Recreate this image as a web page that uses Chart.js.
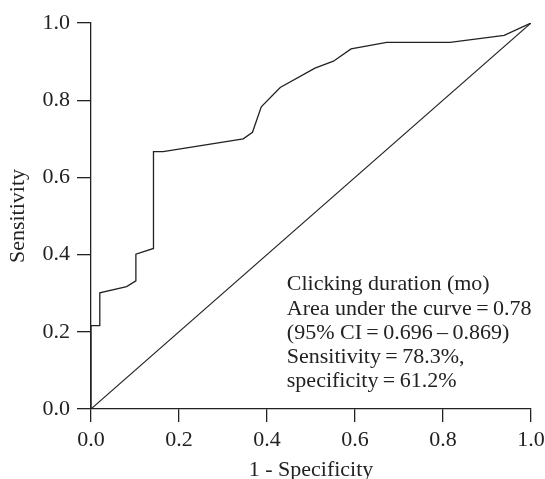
<!DOCTYPE html>
<html>
<head>
<meta charset="utf-8">
<script src="https://cdn.jsdelivr.net/npm/chart.js@4/dist/chart.umd.min.js"></script>
<style>
  html, body { margin: 0; padding: 0; background: #fff; }
  #wrap { position: relative; width: 545px; height: 479px; }
</style>
</head>
<body>
<div id="wrap"><canvas id="c" width="545" height="479"></canvas></div>
<script>
// ROC curve points (1 - specificity, sensitivity)
const fpr = [0, 0, 0.02, 0.02, 0.081, 0.102, 0.102, 0.142, 0.142, 0.164, 0.346, 0.367, 0.387, 0.43, 0.509, 0.551, 0.591, 0.672, 0.816, 0.939, 1.0];
const tpr = [0, 0.216, 0.216, 0.301, 0.317, 0.332, 0.401, 0.416, 0.667, 0.667, 0.700, 0.717, 0.783, 0.833, 0.883, 0.901, 0.933, 0.950, 0.950, 0.968, 1.0];
// Reference (chance) line
const refX = [0, 1];
const refY = [0, 1];
// Tick values
const xTicks = [0, 0.2, 0.4, 0.6, 0.8, 1.0];
const yTicks = [0, 0.2, 0.4, 0.6, 0.8, 1.0];
// Labels
const xTitle = '1 - Specificity';
const yTitle = 'Sensitivity';
const noteLines = [
  'Clicking duration (mo)',
  'Area under the curve\u2009=\u20090.78',
  '(95% CI\u2009=\u20090.696\u2009\u2013\u20090.869)',
  'Sensitivity\u2009=\u200978.3%,',
  'specificity\u2009=\u200961.2%'
];

const FONT = "'Liberation Serif', 'DejaVu Serif', serif";
const INK = '#222';
const FS = 22;

const notePlugin = {
  id: 'note',
  afterDatasetsDraw(chart) {
    const ctx = chart.ctx;
    const xs = chart.scales.x, ys = chart.scales.y;
    ctx.save();
    ctx.fillStyle = INK;
    ctx.font = FS + 'px ' + FONT;
    ctx.textAlign = 'left';
    ctx.textBaseline = 'middle';
    const x0 = xs.getPixelForValue(0.445);
    const y0 = ys.getPixelForValue(0.322);
    noteLines.forEach((t, i) => ctx.fillText(t, x0, y0 + i * 24.2));
    ctx.restore();
  }
};

new Chart(document.getElementById('c'), {
  type: 'scatter',
  data: {
    datasets: [
      {
        data: fpr.map((v, i) => ({ x: v, y: tpr[i] })),
        showLine: true, borderColor: INK, borderWidth: 1.3,
        pointRadius: 0, fill: false, tension: 0
      },
      {
        data: refX.map((v, i) => ({ x: v, y: refY[i] })),
        showLine: true, borderColor: INK, borderWidth: 1.1,
        pointRadius: 0, fill: false, tension: 0
      }
    ]
  },
  options: {
    responsive: false,
    animation: false,
    events: [],
    layout: { padding: { top: 23, right: 14, left: 0, bottom: 0 } },
    plugins: { legend: { display: false }, tooltip: { enabled: false } },
    scales: {
      x: {
        type: 'linear', min: 0, max: 1,
        afterBuildTicks: s => { s.ticks = xTicks.map(v => ({ value: v })); },
        afterFit: s => { s.height = 70; s.paddingLeft = 0; s.paddingRight = 0; },
        grid: { drawOnChartArea: false, drawTicks: true, tickLength: 13, color: INK, lineWidth: 1.3 },
        border: { display: true, color: INK, width: 1.3 },
        ticks: { color: INK, font: { family: FONT, size: FS }, padding: 5, maxRotation: 0,
                 callback: v => v.toFixed(1) },
        title: { display: true, text: xTitle, color: INK, font: { family: FONT, size: FS, lineHeight: 0.8 }, padding: 0 }
      },
      y: {
        type: 'linear', min: 0, max: 1,
        afterBuildTicks: s => { s.ticks = yTicks.map(v => ({ value: v })); },
        afterFit: s => { s.width = 91; s.paddingTop = 0; s.paddingBottom = 0; },
        grid: { drawOnChartArea: false, drawTicks: true, tickLength: 14, color: INK, lineWidth: 1.3 },
        border: { display: true, color: INK, width: 1.3 },
        ticks: { color: INK, font: { family: FONT, size: FS }, padding: 7,
                 callback: v => v.toFixed(1) },
        title: { display: true, text: yTitle, color: INK, font: { family: FONT, size: FS, lineHeight: 1 }, padding: { top: 7, bottom: 0 } }
      }
    }
  },
  plugins: [notePlugin]
});
</script>
</body>
</html>
